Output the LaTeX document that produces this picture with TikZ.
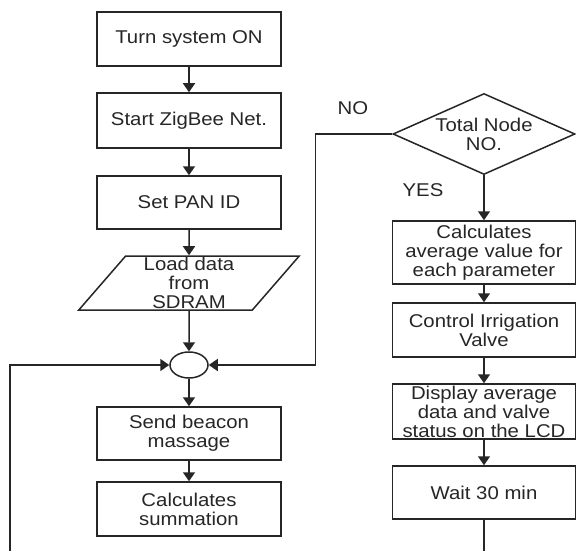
\documentclass[tikz,border=0pt]{standalone}
\usepackage{fontspec}
\setmainfont[FakeStretch=1.1]{Liberation Sans}
\usetikzlibrary{positioning,shapes.geometric,arrows.meta}

\begin{document}
\begin{tikzpicture}[x=1pt, y=-1pt, line width=1.5pt, color=black!85,
    every node/.append style={font=\fontsize{18.5}{19}\selectfont},
    box/.style={draw, rectangle, minimum width=184pt, minimum height=54pt, align=center, inner sep=1pt},
    slanted/.style={draw, trapezium, trapezium left angle=57, trapezium right angle=123, trapezium stretches=true, minimum width=221pt, minimum height=54pt, inner sep=0pt, align=center},
    cond/.style={draw, diamond, aspect=2.25, minimum width=182pt, minimum height=81pt, inner sep=0pt, align=center},
    junction/.style={draw, ellipse, minimum width=38pt, minimum height=26pt, inner sep=0pt},
    arr/.style={-{Triangle[width=12pt,length=9pt]}}]
    \useasboundingbox (0,0) rectangle (576,551);

    % Left column
    \foreach \n/\y/\h/\t in {turn/39/54/Turn system ON, zig/120.5/55/Start ZigBee Net., pan/202.5/53/Set PAN ID, beacon/433.5/53/{Send beacon\\massage}, summ/509/54/{Calculates\\summation}} {
      \node[box, minimum height=\h pt] (\n) at (189,\y) {\t};
    }
    \node[slanted] (load) at (189,283) {Load data\\from\\SDRAM};
    \node[junction] (junc) at (189,365) {};

    % Right column
    \node[cond] (total) at (484,134) {Total Node\\NO.};
    \foreach \n/\y/\h/\t in {avg/252.5/63/{Calculates\\average value for\\each parameter}, ctrl/330/54/{Control Irrigation\\Valve}, disp/411.5/55/{Display average\\data and valve\\status on the LCD}, wait/492.5/53/Wait 30 min} {
      \node[box, minimum width=183pt, minimum height=\h pt] (\n) at (484,\y) {\t};
    }

    % Arrows down each column
    \foreach \a/\b in {turn/zig, zig/pan, pan/load, load/junc, junc/beacon, beacon/summ, total/avg, avg/ctrl, ctrl/disp, disp/wait} {
      \draw[arr] (\a.south) -- (\b.north);
    }

    % Loops back into the junction
    \coordinate (lbot) at (10,551);
    \coordinate (rbot) at (484,551);
    \draw[arr] (lbot) |- (junc.west);
    \draw (wait.south) -- (rbot);
    \draw[arr] (total.west) -- ++(-77,0) |- (junc.east);

    % Branch labels
    \node (no) at (353,108) {NO};
    \node (yes) at (423,190) {YES};
\end{tikzpicture}
\end{document}
